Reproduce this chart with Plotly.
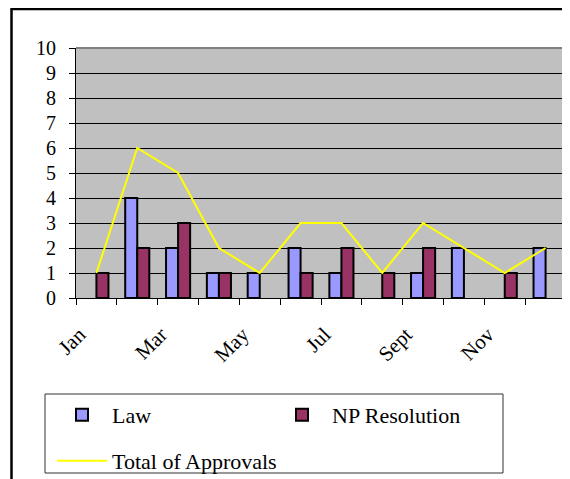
import plotly.graph_objects as go

months = ["Jan", "Feb", "Mar", "Apr", "May", "Jun", "Jul", "Aug", "Sept", "Oct", "Nov", "Dec"]
law = [0, 4, 2, 1, 1, 2, 1, 0, 1, 2, 0, 2]
np_resolution = [1, 2, 3, 1, 0, 1, 2, 1, 2, 0, 1, 0]
total = [1, 6, 5, 2, 1, 3, 3, 1, 3, 2, 1, 2]

# page is offset 8px by the default body margin; figure coordinates below
W, H = 562, 471
L, R, T, B = 68, 4, 40, 181
pw, ph = W - L - R, H - T - B

def px(x):
    return (x - L) / pw

def py(y):
    return (H - B - y) / ph

def cx(x):
    return x / W

def cy(y):
    return 1 - y / H

FONT = "Liberation Serif, Times New Roman, serif"

def hide_zero(vals):
    return [v if v else None for v in vals]

fig = go.Figure()
fig.add_trace(go.Bar(x=months, y=hide_zero(law), name="Law",
                     marker=dict(color="#9999FF", line=dict(color="black", width=2)),
                     legend="legend", showlegend=True))
fig.add_trace(go.Bar(x=months, y=hide_zero(np_resolution), name="NP Resolution",
                     marker=dict(color="#993366", line=dict(color="black", width=2)),
                     legend="legend2", showlegend=True))
fig.add_trace(go.Scatter(x=months, y=total, name="Total of Approvals", mode="lines",
                         line=dict(color="#FFFF00", width=2), legend="legend3", showlegend=True))

leg_common = dict(orientation="h", xref="container", yref="container",
                  xanchor="left", yanchor="middle", itemwidth=50,
                  font=dict(family=FONT, size=22, color="black"),
                  bgcolor="rgba(0,0,0,0)", borderwidth=0)

fig.update_layout(
    width=W, height=H,
    showlegend=True,
    margin=dict(l=L, r=R, t=T, b=B, autoexpand=False),
    paper_bgcolor="white",
    plot_bgcolor="#C0C0C0",
    barmode="group",
    bargap=0.41,
    bargroupgap=0,
    font=dict(family=FONT, size=19, color="black"),
    legend=dict(x=cx(44), y=cy(407), **leg_common),
    legend2=dict(x=cx(264), y=cy(407), **leg_common),
    legend3=dict(x=cx(44), y=cy(453), **leg_common),
    xaxis=dict(type="category", categoryorder="array", categoryarray=months,
               tickson="boundaries", ticks="outside", ticklen=6, tickcolor="black",
               ticklabelstep=2, tickangle=-45, ticklabelshift=-17, ticklabelstandoff=15,
               showline=True, linecolor="black", linewidth=1, showgrid=False,
               tickfont=dict(family=FONT, size=21, color="black"), automargin=False),
    yaxis=dict(range=[0, 10], dtick=1, ticks="outside", ticklen=6, tickcolor="black",
               showline=True, linecolor="black", linewidth=1,
               showgrid=True, gridcolor="black", gridwidth=1,
               ticklabelstandoff=9, tickfont=dict(family=FONT, size=20, color="black"),
               zeroline=False, automargin=False),
    shapes=[
        dict(type="line", xref="paper", yref="paper", x0=0, x1=1, y0=1, y1=1,
             line=dict(color="#808080", width=2), layer="above"),
        dict(type="line", xref="paper", yref="paper", x0=1, x1=1, y0=0, y1=1,
             line=dict(color="#808080", width=2), layer="above"),
        dict(type="rect", xref="paper", yref="paper", x0=px(37), x1=px(495), y0=py(386), y1=py(465),
             line=dict(color="#333333", width=1), fillcolor="rgba(0,0,0,0)"),
        dict(type="rect", xref="paper", yref="paper", x0=px(3.5), x1=px(620), y0=py(1), y1=py(540),
             line=dict(color="black", width=2.5), fillcolor="rgba(0,0,0,0)"),
    ],
)

fig.write_html("out.html")
